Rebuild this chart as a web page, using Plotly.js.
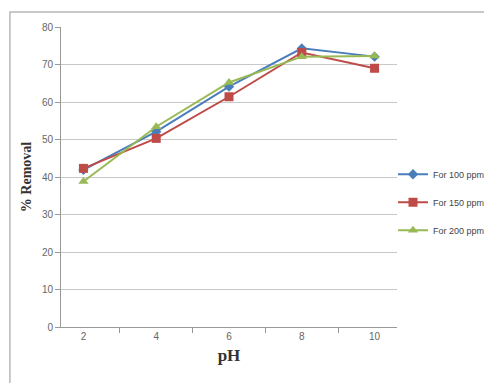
<!DOCTYPE html>
<html><head><meta charset="utf-8">
<script src="https://cdn.plot.ly/plotly-3.0.1.min.js"></script>
<style>html,body{margin:0;padding:0;background:#fff}#c{width:484px;height:383px}</style>
</head><body><div id="c"></div>
<script>
const pH = ["2","4","6","8","10"];
const ppm100 = [41.9, 52.1, 64.1, 74.3, 72.1];
const ppm150 = [42.3, 50.3, 61.4, 73.2, 69.0];
const ppm200 = [38.8, 53.4, 65.2, 72.1, 72.3];
const names = ["For 100 ppm","For 150 ppm","For 200 ppm"];
const colors = ["#4a7ebb","#be4b48","#98b954"];
const symbols = ["diamond","square","triangle-up"];
const sizes = [8, 9, 9];
const series = [ppm100, ppm150, ppm200];
const traces = series.map((ys,i)=>({
  x: pH, y: ys, type:"scatter", mode:"lines+markers", name:names[i],
  legendgroup:"g"+i,
  line:{color:colors[i], width:2},
  marker:{symbol:symbols[i], size:sizes[i], color:colors[i]}
}));
const layout = {
  width:484, height:383,
  margin:{l:61, r:87, t:27, b:56, autoexpand:false},
  paper_bgcolor:"#fff", plot_bgcolor:"#fff",
  showlegend:true,
  legend:{xref:"container", yref:"container", x:0.812, xanchor:"left", y:0.583, yanchor:"top",
    font:{family:"Liberation Sans Narrow, Liberation Sans, sans-serif", size:9, color:"#444"},
    tracegroupgap:9, itemwidth:30, bgcolor:"rgba(0,0,0,0)"},
  xaxis:{type:"category", tickson:"boundaries", ticks:"outside", ticklen:5, tickcolor:"#999",
    showline:true, linecolor:"#999", showgrid:false,
    tickfont:{family:"Liberation Sans Narrow, Liberation Sans, sans-serif", size:10, color:"#666"},
    title:{text:"<b>pH</b>", font:{family:"Liberation Serif, serif", size:17, color:"#333"}, standoff:8}},
  yaxis:{range:[0,80], dtick:10, ticks:"outside", ticklen:5, tickcolor:"#999",
    showline:true, linecolor:"#999", gridcolor:"#c8c8c8", gridwidth:1, zeroline:false,
    tickfont:{family:"Liberation Sans Narrow, Liberation Sans, sans-serif", size:10, color:"#666"},
    title:{text:"<b>% Removal</b>", font:{family:"Liberation Serif, serif", size:14, color:"#333"}, standoff:6}},
  shapes:[{type:"rect", xref:"paper", yref:"paper", x0:-0.152, x1:1.5, y0:-0.5, y1:1.05,
    line:{color:"#b8b8b8", width:1.5}, layer:"below"}]
};
Plotly.newPlot("c", traces, layout, {displayModeBar:false, staticPlot:true});
</script></body></html>
